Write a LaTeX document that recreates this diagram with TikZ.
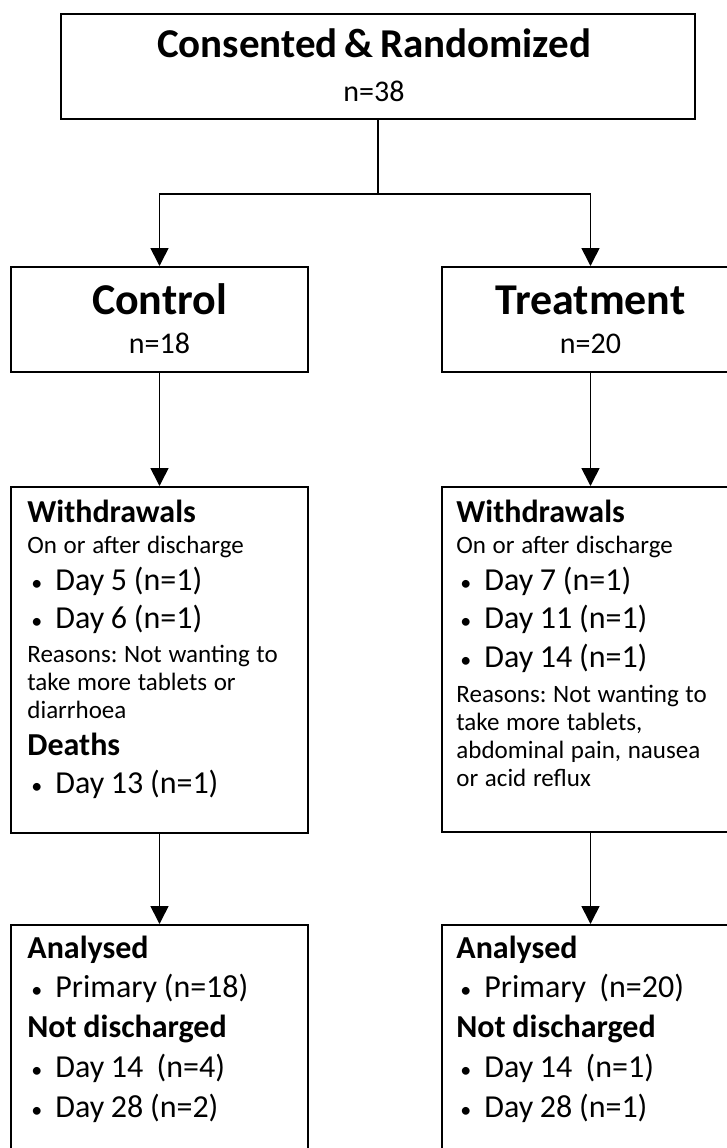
\documentclass[tikz,border=0pt]{standalone}
\usepackage{fontspec}
\setmainfont{Carlito}
\usetikzlibrary{arrows.meta,calc}
\frenchspacing

% one line (or paragraph) of box text; optional argument = baseline distance
\newcommand{\hd}[2][18.5pt]{{\fontsize{16}{#1}\selectfont\bfseries #2\par}}
\newcommand{\sm}[2][14pt]{{\fontsize{12.5}{#1}\selectfont #2\par}}
\newcommand{\itm}[2][19pt]{{\fontsize{16}{#1}\selectfont\hspace*{2pt}\makebox[12pt][l]{\fontsize{11}{11}\selectfont\textbullet}#2\par}}

\begin{document}
\begin{tikzpicture}[x=0.5pt,y=-0.5pt,
  box/.style={draw=black,line width=1pt,rectangle,anchor=north west,inner sep=0pt,
    minimum width=148.5pt,minimum height=52.5pt},
  txt/.style={anchor=base west,inner sep=0pt,text width=135pt,align=left},
  mid/.style={anchor=base,inner sep=0pt,text width=145pt,align=center},
  ln/.style={line width=0.8pt},
  arr/.style={ln,-{Triangle[length=9pt,width=9pt]}}]
\path[use as bounding box] (0,0) rectangle (727,1148);
\clip (0,0) rectangle (727,1148);

% boxes
\node[box,minimum width=317pt] (rand) at (60,13) {};
\node[box] (ctrl) at (10,266) {};
\node[box] (trt) at (441,266) {};
\node[box,minimum height=173pt] (ctrlW) at (10,486) {};
\node[box,minimum height=172.5pt] (trtW) at (441,486) {};
\node[box,minimum height=130pt] (ctrlA) at (10,924) {};
\node[box,minimum height=130pt] (trtA) at (441,924) {};

% texts
\node[mid,text width=300pt] (randT) at ($(rand.north)+(-4,44)$)
  {{\fontsize{20.5}{20}\selectfont\bfseries Consented \& Randomized\par}
   {\fontsize{15}{22}\selectfont n=38\par}};
\node[mid] (ctrlT) at ($(ctrl.north)+(0,48)$)
  {{\fontsize{22}{22}\selectfont\bfseries Control\par}
   {\fontsize{15}{19.5}\selectfont n=18\par}};
\node[mid] (trtT) at ($(trt.north)+(0,48)$)
  {{\fontsize{22}{22}\selectfont\bfseries Treatment\par}
   {\fontsize{15}{19.5}\selectfont n=20\par}};

\node[txt] (ctrlWT) at ($(ctrlW.north west)+(17,36)$)
  {\hd{Withdrawals}
   \sm[15.5pt]{On or after discharge}
   \itm[18.5pt]{Day 5 (n=1)}
   \itm{Day 6 (n=1)}
   \vspace{3pt}\sm{Reasons: Not wanting to\\take more tablets or\\diarrhoea}
   \hd{Deaths}
   \itm{Day 13 (n=1)}};
\node[txt] (trtWT) at ($(trtW.north west)+(15,36)$)
  {\hd{Withdrawals}
   \sm[15.5pt]{On or after discharge}
   \itm[18.5pt]{Day 7 (n=1)}
   \itm{Day 11 (n=1)}
   \itm[19.5pt]{Day 14 (n=1)}
   \vspace{3.5pt}\sm{Reasons: Not wanting to\\take more tablets,\\abdominal pain, nausea\\or acid reflux}};

\node[txt] (ctrlAT) at ($(ctrlA.north west)+(17,34)$)
  {\hd{Analysed}
   \itm[19.5pt]{Primary (n=18)}
   \hd[20pt]{Not discharged}
   \itm[20pt]{Day 14\ \ (n=4)}
   \itm[20pt]{Day 28 (n=2)}};
\node[txt] (trtAT) at ($(trtA.north west)+(15,34)$)
  {\hd{Analysed}
   \itm[19.5pt]{Primary\ \ (n=20)}
   \hd[20pt]{Not discharged}
   \itm[20pt]{Day 14\ \ (n=1)}
   \itm[20pt]{Day 28 (n=1)}};

% connectors
\coordinate (split) at ($(rand.south)+(0,74)$);
\draw[ln] (rand.south) -- (split);
\draw[arr] (split) -| (ctrl.north);
\draw[arr] (split) -| (trt.north);
\draw[arr] (ctrl.south) -- (ctrlW.north);
\draw[arr] (trt.south) -- (trtW.north);
\draw[arr] (ctrlW.south) -- (ctrlA.north);
\draw[arr] (trtW.south) -- (trtA.north);
\end{tikzpicture}
\end{document}
